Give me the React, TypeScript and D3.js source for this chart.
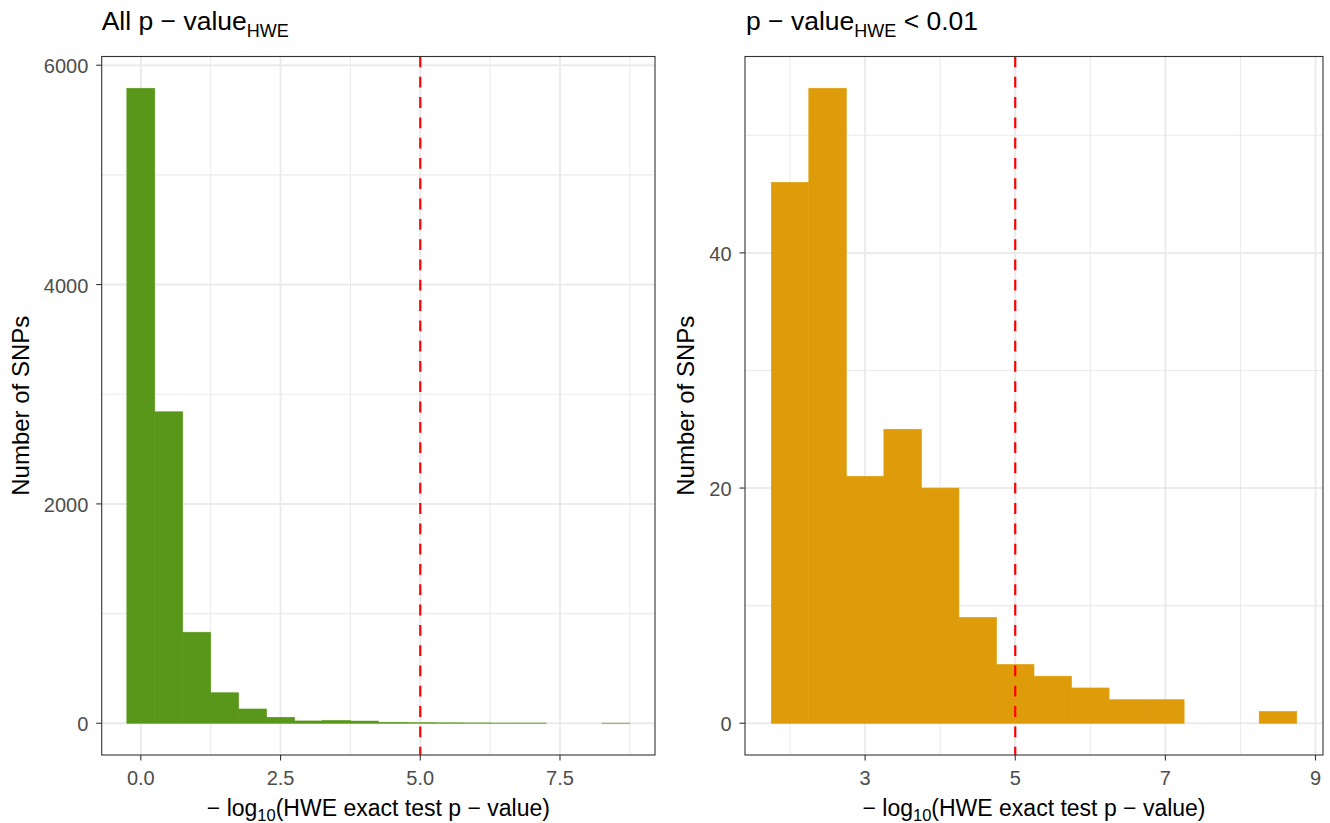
import React from "react";
import * as d3 from "d3";

// ---------- data ----------
const binWidth = 0.5;

const allBinCenters = [0, 0.5, 1, 1.5, 2, 2.5, 3, 3.5, 4, 4.5, 5, 5.5, 6, 6.5, 7, 7.5, 8, 8.5];
const allCounts = [5790, 2840, 830, 278, 130, 54, 21, 25, 20, 9, 5, 4, 3, 2, 2, 0, 0, 1];

const lowBinCenters = [2, 2.5, 3, 3.5, 4, 4.5, 5, 5.5, 6, 6.5, 7, 7.5, 8, 8.5];
const lowCounts = [46, 54, 21, 25, 20, 9, 5, 4, 3, 2, 2, 0, 0, 1];

const allXTicks = [0, 2.5, 5, 7.5];
const allXTickLabels = ["0.0", "2.5", "5.0", "7.5"];
const allXMinor = [1.25, 3.75, 6.25, 8.75];
const allYTicks = [0, 2000, 4000, 6000];
const allYTickLabels = ["0", "2000", "4000", "6000"];
const allYMinor = [1000, 3000, 5000];

const lowXTicks = [3, 5, 7, 9];
const lowXTickLabels = ["3", "5", "7", "9"];
const lowXMinor = [2, 4, 6, 8];
const lowYTicks = [0, 20, 40];
const lowYTickLabels = ["0", "20", "40"];
const lowYMinor = [10, 30, 50];

const threshold = 5;

// ---------- style ----------
const FONT = "'Liberation Sans', Arial, Helvetica, sans-serif";
const GRID = "#EBEBEB";
const TICK_COL = "#4D4D4D";
const BORDER = "#333333";
const TICK_FS = 20;
const AXIS_FS = 23;
const YTITLE_FS = 24;
const TITLE_FS = 26.5;

type PanelProps = {
  left: number;
  right: number;
  top: number;
  bottom: number;
  centers: number[];
  counts: number[];
  xTicks: number[];
  xTickLabels: string[];
  xMinor: number[];
  yTicks: number[];
  yTickLabels: string[];
  yMinor: number[];
  fill: string;
  clipId: string;
};

function Panel(p: PanelProps) {
  const xmin = d3.min(p.centers)! - binWidth / 2;
  const xmax = d3.max(p.centers)! + binWidth / 2;
  const xr = xmax - xmin;
  const x = d3
    .scaleLinear()
    .domain([xmin - xr * 0.05, xmax + xr * 0.05])
    .range([p.left, p.right]);
  const ymax = d3.max(p.counts)!;
  const y = d3
    .scaleLinear()
    .domain([-ymax * 0.05, ymax * 1.05])
    .range([p.bottom, p.top]);

  const maxLabelW = d3.max(p.yTickLabels, (s) => s.length)! * 0.556 * TICK_FS;
  const yTitleX = p.left - 13.4 - maxLabelW - 15;
  const cx = (p.left + p.right) / 2;
  const cy = (p.top + p.bottom) / 2;

  return (
    <g>
      <defs>
        <clipPath id={p.clipId}>
          <rect x={p.left} y={p.top} width={p.right - p.left} height={p.bottom - p.top} />
        </clipPath>
      </defs>
      <rect x={p.left} y={p.top} width={p.right - p.left} height={p.bottom - p.top} fill="#fff" />
      <g clipPath={`url(#${p.clipId})`}>
        {p.xMinor.map((v) => (
          <line key={"xm" + v} x1={x(v)} x2={x(v)} y1={p.top} y2={p.bottom} stroke={GRID} strokeWidth={1.1} />
        ))}
        {p.yMinor.map((v) => (
          <line key={"ym" + v} x1={p.left} x2={p.right} y1={y(v)} y2={y(v)} stroke={GRID} strokeWidth={1.1} />
        ))}
        {p.xTicks.map((v) => (
          <line key={"xg" + v} x1={x(v)} x2={x(v)} y1={p.top} y2={p.bottom} stroke={GRID} strokeWidth={2} />
        ))}
        {p.yTicks.map((v) => (
          <line key={"yg" + v} x1={p.left} x2={p.right} y1={y(v)} y2={y(v)} stroke={GRID} strokeWidth={2} />
        ))}
        {p.centers.map((c, i) =>
          p.counts[i] > 0 ? (
            <rect
              key={"b" + c}
              x={x(c - binWidth / 2)}
              width={x(c + binWidth / 2) - x(c - binWidth / 2)}
              y={y(p.counts[i])}
              height={y(0) - y(p.counts[i])}
              fill={p.fill}
              stroke={p.fill}
              strokeWidth={0.6}
            />
          ) : null
        )}
        <line
          x1={x(threshold)}
          x2={x(threshold)}
          y1={p.top}
          y2={p.bottom}
          stroke="#FF0000"
          strokeWidth={2.2}
          strokeDasharray="10.8,9.5"
        />
      </g>
      <rect
        x={p.left}
        y={p.top}
        width={p.right - p.left}
        height={p.bottom - p.top}
        fill="none"
        stroke={BORDER}
        strokeWidth={1.1}
      />
      {p.xTicks.map((v, i) => (
        <g key={"xt" + v}>
          <line x1={x(v)} x2={x(v)} y1={p.bottom} y2={p.bottom + 5.5} stroke={BORDER} strokeWidth={1.1} />
          <text x={x(v)} y={784.5} textAnchor="middle" fontFamily={FONT} fontSize={TICK_FS} fill={TICK_COL}>
            {p.xTickLabels[i]}
          </text>
        </g>
      ))}
      {p.yTicks.map((v, i) => (
        <g key={"yt" + v}>
          <line x1={p.left - 5.5} x2={p.left} y1={y(v)} y2={y(v)} stroke={BORDER} strokeWidth={1.1} />
          <text
            x={p.left - 13.4}
            y={y(v) + 8}
            textAnchor="end"
            fontFamily={FONT}
            fontSize={TICK_FS}
            fill={TICK_COL}
          >
            {p.yTickLabels[i]}
          </text>
        </g>
      ))}
      <text
        transform={`translate(${yTitleX},${cy}) rotate(-90)`}
        textAnchor="middle"
        fontFamily={FONT}
        fontSize={YTITLE_FS}
        fill="#000"
      >
        Number of SNPs
      </text>
      <text x={cx} y={816} textAnchor="middle" fontFamily={FONT} fontSize={AXIS_FS} fill="#000">
        <tspan>{"\u2212 log"}</tspan>
        <tspan fontSize={16.5} dy={5}>
          10
        </tspan>
        <tspan dy={-5}>{"(HWE exact test p \u2212 value)"}</tspan>
      </text>
    </g>
  );
}

export default function App() {
  const top = 56.5;
  const bottom = 755;
  return (
    <svg width={1330} height={823} style={{ display: "block", position: "absolute", left: 0, top: 0, background: "#fff" }}>
      <rect x={0} y={0} width={1330} height={823} fill="#fff" />
      <Panel
        left={101.7}
        right={655}
        top={top}
        bottom={bottom}
        centers={allBinCenters}
        counts={allCounts}
        xTicks={allXTicks}
        xTickLabels={allXTickLabels}
        xMinor={allXMinor}
        yTicks={allYTicks}
        yTickLabels={allYTickLabels}
        yMinor={allYMinor}
        fill="#58971A"
        clipId="clipA"
      />
      <Panel
        left={745}
        right={1323}
        top={top}
        bottom={bottom}
        centers={lowBinCenters}
        counts={lowCounts}
        xTicks={lowXTicks}
        xTickLabels={lowXTickLabels}
        xMinor={lowXMinor}
        yTicks={lowYTicks}
        yTickLabels={lowYTickLabels}
        yMinor={lowYMinor}
        fill="#DE9C0A"
        clipId="clipB"
      />
      <text x={101.7} y={30} fontFamily={FONT} fontSize={TITLE_FS} fill="#000">
        <tspan>{"All p \u2212 value"}</tspan>
        <tspan fontSize={18} dy={7}>
          HWE
        </tspan>
      </text>
      <text x={746} y={30} fontFamily={FONT} fontSize={TITLE_FS} fill="#000">
        <tspan>{"p \u2212 value"}</tspan>
        <tspan fontSize={18} dy={7}>
          HWE
        </tspan>
        <tspan dy={-7}>{" < 0.01"}</tspan>
      </text>
    </svg>
  );
}
